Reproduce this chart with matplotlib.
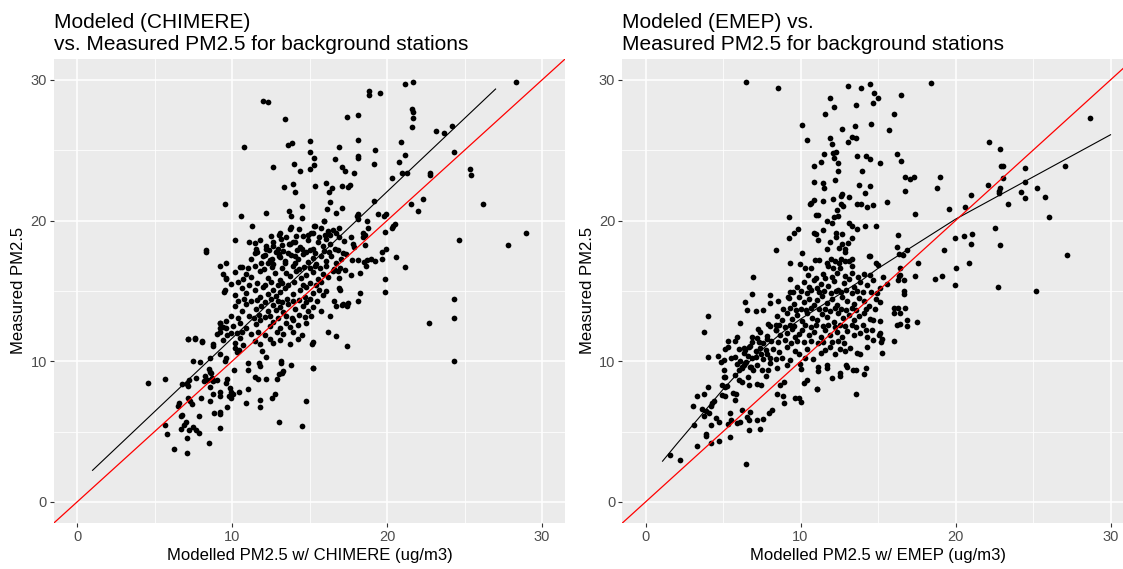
import numpy as np
import matplotlib
matplotlib.use('Agg')
import matplotlib.pyplot as plt
from matplotlib.ticker import FixedLocator

plt.rcParams['font.family'] = ['Liberation Sans', 'DejaVu Sans']

# --- CHIMERE panel: (modelled, measured) ---
chimere_sparse = [
    (12.0, 28.5), (12.3, 28.4), (13.4, 27.2), (17.4, 27.35), (10.8, 25.25), (13.6, 25.4), (13.85, 25.5),
    (15.0, 25.65), (16.9, 25.2), (15.0, 24.85), (15.3, 24.45), (16.65, 24.4), (14.0, 24.05), (12.65, 23.8),
    (15.3, 23.95), (15.0, 23.65), (14.4, 23.55), (17.1, 23.8), (17.3, 23.55), (13.95, 22.6), (13.35, 22.4),
    (14.05, 22.0), (15.35, 22.45), (16.05, 22.65), (16.45, 22.3), (16.25, 22.05), (17.1, 22.45), (17.5, 22.4),
    (16.35, 21.3), (16.1, 20.8), (17.1, 20.9), (16.7, 20.55), (14.5, 21.05), (14.5, 20.15), (13.7, 20.65),
    (13.8, 20.3), (9.55, 21.2), (10.6, 20.35), (12.2, 20.55), (11.3, 19.6), (15.9, 19.95), (15.3, 19.65),
    (15.2, 19.15), (13.75, 19.4), (13.1, 19.15), (14.1, 18.9), (10.2, 18.6), (11.1, 18.45), (8.35, 17.9),
    (8.35, 17.8), (9.2, 16.75), (9.6, 16.95), (10.65, 16.7), (11.55, 17.95), (11.5, 17.7), (12.2, 17.95),
    (12.1, 17.55), (12.65, 18.2), (13.0, 17.65), (13.05, 17.5), (12.55, 17.25), (12.3, 17.0), (13.4, 17.0),
    (13.2, 18.25), (13.65, 18.3), (13.95, 18.45), (14.2, 17.9), (14.05, 17.45),
    (21.15, 29.7), (21.65, 29.85), (18.85, 29.2), (18.85, 28.95), (19.55, 29.05), (18.15, 27.5), (21.6, 27.9),
    (21.7, 27.75), (21.7, 27.3), (21.6, 26.65), (28.35, 29.85), (23.15, 26.35), (23.7, 26.2), (24.2, 26.75),
    (18.15, 25.75), (20.9, 25.6), (18.1, 24.45), (18.15, 24.6), (19.25, 25.05), (21.15, 24.65), (20.75, 24.15),
    (19.15, 24.05), (20.95, 23.4), (21.3, 23.4), (22.75, 23.35), (22.75, 23.25), (24.35, 24.85), (17.85, 23.4),
    (17.6, 22.5), (20.3, 23.0), (25.35, 23.7), (25.4, 23.25), (19.15, 21.4), (21.55, 21.15), (22.3, 21.5),
    (22.0, 20.65), (26.2, 21.15), (18.05, 20.3), (18.1, 20.1), (18.15, 20.45), (18.7, 19.95), (19.4, 20.45),
    (19.8, 20.3), (19.9, 20.45), (18.45, 19.15), (18.55, 18.95), (18.45, 18.85), (18.75, 19.45), (19.85, 19.2),
    (20.4, 19.65), (20.3, 19.45), (20.5, 19.75), (17.7, 18.8), (17.85, 18.15), (18.55, 18.25), (24.65, 18.65),
    (28.95, 19.15), (27.8, 18.25), (19.65, 17.8), (19.95, 17.95), (17.75, 17.2), (18.15, 17.2), (18.5, 17.05),
    (18.7, 17.2), (18.65, 16.75), (18.95, 17.25), (19.25, 17.1), (19.7, 17.3), (20.55, 17.4), (21.15, 16.7),
    (17.7, 16.15), (18.25, 16.3), (19.85, 15.85), (18.25, 14.85), (18.15, 14.25), (19.85, 14.95), (24.35, 14.45),
    (24.35, 13.1), (22.7, 12.7), (24.35, 10.0),
    (9.6, 15.85), (9.45, 14.95), (5.7, 8.75), (4.6, 8.45), (7.15, 11.55), (7.6, 11.6), (8.05, 11.4), (7.45, 10.0),
    (7.95, 9.95), (8.55, 10.2), (9.2, 12.75), (9.2, 12.35), (9.6, 12.35), (9.65, 11.85), (9.2, 12.1), (9.05, 11.95),
    (8.75, 11.1), (9.2, 10.5), (9.6, 10.2), (9.55, 10.0), (10.35, 12.0), (10.2, 10.95), (10.45, 10.8), (10.3, 10.65),
    (10.1, 9.35), (11.0, 9.85), (11.05, 9.35), (11.75, 9.9), (11.8, 9.65), (11.45, 8.9), (11.65, 8.75), (12.2, 8.75),
    (12.2, 10.3), (11.95, 10.75), (13.15, 10.05), (13.15, 9.85), (13.8, 9.75), (15.2, 9.5), (13.3, 9.3), (13.0, 9.1),
    (13.25, 9.15), (12.9, 8.75), (12.75, 7.65), (12.6, 7.4), (11.8, 7.25), (11.8, 6.75), (10.9, 7.0), (10.45, 7.85),
    (11.05, 8.05), (9.7, 8.75), (9.6, 8.45), (9.85, 8.1), (9.9, 7.85), (9.8, 7.5), (9.7, 6.75), (9.2, 7.8), (9.2, 7.5),
    (9.95, 7.4), (10.05, 7.65), (8.7, 8.8), (8.75, 8.6), (9.0, 8.7), (8.55, 8.2), (8.75, 7.7), (8.5, 9.45), (8.6, 9.25),
    (8.65, 9.15), (8.25, 8.95), (8.45, 8.65), (8.2, 8.6), (7.7, 8.8), (7.25, 8.7), (7.15, 8.25), (7.1, 8.35),
    (6.75, 8.4), (8.0, 7.4), (8.6, 7.15), (7.4, 6.95), (7.3, 7.2), (7.15, 7.4), (6.55, 7.0), (6.5, 6.85), (6.75, 6.2),
    (6.7, 6.1), (7.85, 6.1), (8.85, 6.3), (9.2, 6.4), (9.25, 6.25), (9.25, 5.25), (5.65, 5.5), (7.0, 5.65),
    (6.9, 5.45), (5.8, 4.8), (6.7, 5.2), (7.25, 5.1), (7.45, 5.35), (7.65, 5.1), (7.85, 4.9), (7.1, 4.55), (8.5, 4.2),
    (6.25, 3.8), (7.1, 3.45), (13.0, 5.7), (14.5, 5.4), (14.75, 7.15), (15.15, 11.2), (16.2, 12.1), (17.4, 11.1),
    (16.3, 13.2), (16.6, 14.3), (17.1, 14.0), (17.45, 14.15), (16.95, 15.1), (16.85, 16.4), (15.2, 9.55),
    (16.7, 11.8), (17.4, 13.9), (16.7, 13.9), (17.15, 14.05), (16.9, 15.2), (17.3, 16.5), (16.95, 16.6),
]

chimere_dense = [
    (13.78, 19.51), (14.31, 19.39), (14.89, 18.99), (15.34, 19.63), (15.77, 19.47), (15.96, 19.94), (16.2, 19.23),
    (16.33, 18.99), (16.5, 19.35), (16.71, 19.11), (16.93, 19.47),
    (12.5, 18.9), (13.0, 19.0), (13.5, 18.85), (14.6, 18.9), (15.1, 19.1), (15.6, 18.8), (16.0, 19.0), (16.9, 18.8),
    (11.46, 18.4), (11.78, 18.6), (12.21, 18.2), (12.64, 18.5), (12.96, 18.0), (13.18, 18.7), (13.71, 18.3),
    (14.04, 18.5), (14.36, 18.1), (14.89, 18.6), (15.21, 18.0), (15.53, 18.45), (15.86, 18.2), (16.07, 18.7),
    (16.33, 18.35), (16.61, 18.0), (17.25, 18.55), (17.78, 18.3),
    (11.6, 17.8), (12.4, 17.9), (12.85, 17.75), (13.3, 17.85), (13.6, 17.7), (14.5, 17.95), (14.75, 17.8),
    (15.05, 17.9), (15.35, 17.7), (15.95, 17.85), (16.25, 17.75), (16.85, 17.9), (17.15, 17.7),
    (11.25, 17.3), (11.89, 17.0), (12.0, 17.5), (12.43, 17.2), (12.64, 16.9), (13.07, 17.4), (13.39, 17.1),
    (13.82, 17.55), (14.04, 16.95), (14.25, 17.3), (14.57, 17.6), (14.89, 17.05), (15.21, 17.35), (15.43, 16.9),
    (15.75, 17.5), (16.07, 17.15), (16.39, 17.45), (16.71, 16.95), (17.04, 17.3), (17.36, 17.6),
    (10.5, 16.7), (11.0, 16.6), (11.5, 16.8), (12.05, 16.55), (12.55, 16.7), (13.25, 16.6), (13.95, 16.75),
    (14.3, 16.55), (14.65, 16.7), (15.0, 16.6), (15.35, 16.75), (15.7, 16.6), (16.05, 16.8), (16.6, 16.55),
    (9.43, 16.2), (9.64, 15.9), (10.18, 16.35), (10.71, 15.85), (10.93, 16.2), (11.25, 16.0), (11.78, 16.4),
    (12.32, 15.95), (12.75, 16.25), (13.07, 15.8), (13.5, 16.3), (13.71, 16.05), (14.14, 16.4), (14.46, 15.9),
    (14.78, 16.15), (15.21, 16.35), (15.53, 15.85), (15.86, 16.2), (16.18, 16.0), (16.5, 16.4), (16.93, 15.95),
    (9.9, 15.5), (10.4, 15.6), (11.1, 15.45), (11.6, 15.55), (12.15, 15.4), (12.5, 15.6), (12.95, 15.45),
    (13.25, 15.55), (13.6, 15.4), (14.0, 15.6), (14.55, 15.45), (15.0, 15.55), (15.4, 15.4), (15.75, 15.6),
    (9.54, 15.1), (10.18, 14.7), (10.61, 15.2), (10.93, 14.85), (11.46, 15.05), (11.78, 14.6), (12.0, 15.25),
    (12.32, 14.8), (12.64, 15.1), (12.86, 14.65), (13.07, 14.95), (13.39, 15.2), (13.93, 14.75), (14.36, 15.05),
    (14.68, 14.6), (14.78, 15.25), (15.21, 14.85), (15.64, 15.1), (15.86, 14.7), (16.07, 15.0),
    (10.4, 14.3), (10.75, 14.4), (11.2, 14.25), (11.6, 14.35), (12.1, 14.2), (12.5, 14.4), (12.95, 14.3),
    (13.2, 14.2), (13.55, 14.4), (13.95, 14.25), (14.3, 14.35), (14.75, 14.2), (15.05, 14.4), (15.45, 14.3),
    (10.18, 13.9), (10.61, 13.6), (10.93, 14.05), (11.57, 13.7), (11.89, 13.95), (12.32, 13.55), (12.64, 14.0),
    (12.86, 13.65), (13.07, 13.85), (13.29, 13.5), (13.61, 14.1), (14.04, 13.7), (14.57, 13.95), (14.89, 13.6),
    (15.21, 13.85), (15.75, 13.55),
    (9.9, 13.2), (10.4, 13.1), (11.1, 13.25), (11.4, 13.1), (11.75, 13.3), (12.1, 13.15), (12.45, 13.2),
    (12.95, 13.1), (13.45, 13.25), (13.85, 13.1), (14.3, 13.3), (14.7, 13.15), (15.1, 13.2),
    (9.21, 12.7), (9.43, 12.45), (9.64, 12.85), (10.07, 12.5), (10.5, 12.75), (10.93, 12.4), (11.57, 12.65),
    (11.78, 12.9), (12.43, 12.5), (12.64, 12.8), (13.07, 12.35), (13.5, 12.7), (13.71, 12.45), (13.93, 12.9),
    (14.25, 12.55), (14.79, 12.75),
    (9.9, 12.0), (10.65, 12.1), (11.2, 11.95), (11.65, 12.05), (12.1, 11.9), (12.9, 12.1), (13.3, 11.95),
    (13.95, 12.05), (14.5, 11.9),
    (7.18, 11.56), (7.61, 11.63), (8.04, 11.46), (8.79, 11.2), (9.43, 11.5), (10.18, 11.3), (10.5, 11.65),
    (10.71, 11.15), (11.46, 11.45), (11.78, 11.2), (12.43, 11.6), (12.64, 11.3), (13.07, 11.5), (13.71, 11.25),
    (14.25, 11.55), (15.21, 11.35),
]

# linear fit (black) read at its two ends
chimere_fit_x = [1.0, 27.0]
chimere_fit_y = [2.25, 29.35]

# --- EMEP panel ---
emep_sparse = [
    (6.5, 29.85), (8.55, 29.45), (10.1, 26.8), (10.4, 25.7), (11.6, 27.6), (11.9, 28.7), (12.15, 28.05),
    (13.05, 29.55), (13.9, 29.45), (14.5, 29.7), (14.75, 29.05), (15.0, 28.7), (14.65, 28.35), (13.6, 28.2),
    (14.55, 26.85), (15.7, 26.45), (12.7, 26.5), (13.5, 26.7), (13.35, 25.95), (13.55, 25.85), (11.9, 25.85),
    (12.0, 25.45), (13.05, 25.55), (11.5, 24.75), (12.1, 24.8), (12.3, 24.9), (12.15, 24.45), (11.3, 24.15),
    (10.85, 23.9), (12.45, 24.1), (12.45, 23.5), (13.65, 24.6), (14.2, 24.6), (14.5, 24.35), (15.1, 24.1),
    (13.95, 23.55), (12.2, 22.9), (10.85, 22.75), (11.45, 22.65), (11.5, 22.35), (13.8, 22.5), (14.5, 22.45),
    (14.15, 21.95), (12.1, 21.5), (11.45, 21.4), (10.9, 21.45), (10.7, 21.25), (10.6, 21.15), (12.7, 21.9),
    (12.6, 21.75), (13.15, 21.65), (13.65, 21.2), (13.9, 21.2), (14.3, 21.0), (14.7, 21.1), (12.6, 21.15),
    (12.75, 21.05), (12.35, 20.75), (15.6, 21.35), (11.0, 20.4), (11.1, 20.4), (12.15, 20.25), (12.45, 20.35),
    (9.25, 20.25), (11.7, 20.0), (12.05, 19.8), (13.15, 19.85), (13.35, 19.6), (13.65, 19.4), (14.15, 19.65),
    (14.9, 19.6), (9.85, 19.4), (9.6, 19.15), (9.25, 18.75), (10.9, 19.1), (11.0, 19.05), (11.45, 19.3),
    (12.3, 19.15), (12.3, 18.85), (12.7, 19.05), (11.15, 18.6), (11.9, 18.5), (13.3, 18.75), (13.05, 18.4),
    (12.7, 18.3), (12.5, 18.05), (12.85, 17.95), (12.9, 17.8), (11.7, 17.95), (8.4, 17.9), (10.1, 17.7),
    (14.4, 17.5), (14.5, 17.45), (14.85, 17.0), (15.0, 16.85), (9.3, 17.0), (9.95, 16.9), (10.3, 16.65),
    (10.7, 16.6), (10.95, 17.2), (11.2, 17.2), (11.7, 17.0), (11.95, 17.25), (12.25, 17.1), (12.5, 16.95),
    (12.6, 17.25), (12.9, 17.15), (13.1, 17.15), (13.35, 17.25), (13.35, 16.8), (11.8, 16.8), (12.1, 16.65),
    (12.55, 16.65),
    (18.45, 29.8), (16.5, 28.95), (16.0, 27.6), (16.2, 24.75), (16.5, 24.25), (16.75, 23.1), (17.05, 22.95),
    (17.35, 23.1), (19.0, 23.1), (18.8, 22.35), (16.75, 22.1), (17.4, 20.5), (19.55, 20.85), (20.6, 21.0),
    (21.0, 21.85), (22.15, 25.55), (22.9, 25.1), (22.95, 23.85), (23.05, 23.85), (23.05, 23.05), (22.1, 22.5),
    (22.85, 22.3), (22.8, 22.1), (22.8, 21.95), (23.4, 21.2), (24.25, 22.0), (24.5, 23.75), (24.5, 22.75),
    (24.5, 21.6), (25.25, 22.35), (25.8, 21.65), (26.0, 20.25), (27.05, 23.85), (28.65, 27.3), (27.2, 17.55),
    (22.55, 19.5), (22.85, 18.25), (16.3, 19.0), (16.2, 18.1), (16.35, 17.65), (16.6, 17.55), (16.9, 17.9),
    (17.55, 17.0), (19.25, 17.9), (19.95, 18.75), (20.55, 18.9), (21.05, 19.05), (21.0, 18.3), (20.0, 16.65),
    (20.85, 17.0), (16.45, 16.65),
    (17.4, 16.05), (18.7, 15.85), (19.1, 16.05), (19.95, 15.45), (22.75, 15.3), (25.2, 15.0), (16.35, 16.05),
    (16.45, 16.1), (16.3, 15.75), (16.65, 15.75), (16.7, 15.0), (16.65, 14.8), (16.0, 13.8), (16.3, 13.8),
    (16.75, 13.8), (16.05, 13.4), (16.45, 13.4), (16.2, 12.55), (16.4, 12.65), (16.9, 12.9), (16.85, 12.5),
    (17.5, 12.8), (16.05, 11.45),
    (6.95, 16.0), (6.85, 14.8), (8.05, 14.7), (8.05, 14.15), (8.55, 14.3), (9.2, 14.6), (9.75, 15.3), (9.35, 14.95),
    (9.3, 15.85), (6.4, 14.2), (6.55, 13.65), (7.15, 13.6), (7.6, 13.65), (4.05, 13.25), (3.75, 12.05), (6.1, 12.75),
    (7.9, 12.65), (8.4, 12.55), (8.4, 12.2), (7.25, 12.3), (6.85, 11.7), (7.2, 11.65), (7.3, 11.35), (5.9, 11.7),
    (5.75, 11.45), (5.35, 11.45), (5.3, 11.05), (5.15, 10.9), (4.05, 10.3), (4.7, 10.4), (5.05, 10.1), (5.75, 10.3),
    (6.1, 10.05), (6.35, 10.95), (6.4, 10.8), (6.75, 11.1), (6.6, 10.35), (7.85, 11.55), (7.8, 10.8), (7.45, 10.55),
    (7.15, 10.3), (6.8, 9.6), (6.95, 9.4), (5.05, 8.9), (4.95, 8.3), (5.25, 8.25), (5.1, 8.15), (4.05, 8.2),
    (3.75, 7.7), (3.3, 7.55), (3.05, 6.85), (1.6, 3.35), (2.2, 3.0), (6.5, 2.7), (9.9, 7.4), (10.0, 7.1), (9.65, 7.4),
    (10.45, 8.65), (10.2, 8.45), (11.05, 8.0), (9.95, 9.8),
    (6.5, 9.95), (6.35, 9.7), (6.25, 9.6), (6.05, 9.35), (5.8, 9.0), (6.0, 8.65), (6.25, 8.55), (6.6, 8.9), (6.7, 8.3),
    (7.2, 8.4), (7.45, 8.3), (7.8, 8.95), (7.9, 9.35), (4.4, 7.15), (4.3, 7.0), (4.2, 6.8), (4.95, 7.6), (5.1, 7.5),
    (5.65, 7.75), (5.85, 7.7), (5.75, 7.25), (3.65, 6.6), (3.8, 6.1), (3.9, 6.5), (4.1, 6.35), (5.45, 6.3), (5.5, 5.8),
    (5.3, 5.55), (5.9, 5.6), (6.1, 5.7), (6.25, 6.55), (6.55, 6.05), (6.65, 5.8), (6.75, 6.4), (7.2, 5.8), (7.55, 5.9),
    (7.4, 5.2), (6.65, 5.1), (3.15, 5.45), (4.2, 5.45), (4.55, 5.95), (4.75, 5.65), (3.9, 4.85), (3.9, 4.7), (3.3, 4.0),
    (4.25, 4.2), (4.75, 4.35), (5.45, 4.65), (7.95, 6.3), (8.15, 6.55), (8.5, 7.7), (8.7, 8.3), (8.95, 8.5),
    (8.95, 7.05), (8.85, 7.5), (4.9, 9.95), (5.05, 9.35), (5.15, 8.9),
    (14.2, 12.2), (14.7, 12.9), (15.15, 12.0), (15.2, 11.4), (15.25, 10.6), (14.7, 11.5), (14.3, 11.0),
    (13.85, 10.55), (13.55, 7.7), (13.4, 9.4), (14.2, 9.5), (12.55, 8.95), (12.05, 8.8), (12.95, 9.7),
    (11.15, 9.6), (11.7, 9.7), (11.05, 8.0),
]

emep_dense = [
    (10.5, 16.1), (11.0, 15.95), (11.45, 16.2), (12.0, 16.0), (12.35, 16.25), (12.9, 16.05), (13.3, 16.3),
    (13.7, 16.0), (14.1, 16.2), (14.5, 16.1), (15.3, 16.0),
    (10.2, 15.6), (10.55, 15.3), (10.85, 15.8), (11.05, 15.2), (11.3, 15.5), (11.6, 15.9), (11.8, 15.35),
    (12.15, 15.7), (12.45, 15.1), (12.8, 15.55), (13.1, 15.85), (13.45, 15.25), (13.85, 15.6), (14.3, 15.4),
    (14.7, 15.75), (15.15, 15.2), (15.6, 15.5),
    (9.5, 14.9), (10.0, 15.0), (10.4, 14.85), (10.7, 15.05), (11.2, 14.9), (11.5, 15.0), (11.95, 14.85),
    (12.3, 15.0), (12.6, 14.9), (12.95, 15.05), (13.3, 14.85), (13.65, 15.0), (14.0, 14.9), (14.55, 14.95),
    (14.95, 14.85),
    (9.25, 14.5), (9.55, 14.1), (9.9, 14.6), (10.2, 14.2), (10.55, 14.45), (10.85, 14.0), (11.05, 14.35),
    (11.4, 14.65), (11.7, 14.15), (12.05, 14.4), (12.35, 14.0), (12.7, 14.55), (13.0, 14.25), (13.45, 14.1),
    (13.75, 14.5), (14.1, 14.3), (14.4, 13.95), (14.85, 14.4), (15.15, 14.2),
    (8.9, 13.7), (9.35, 13.8), (9.7, 13.65), (10.05, 13.75), (10.35, 13.65), (10.7, 13.8), (11.2, 13.7),
    (11.55, 13.75), (11.9, 13.6), (12.25, 13.8), (12.6, 13.7), (12.95, 13.65), (13.3, 13.8), (13.6, 13.65),
    (14.25, 13.75), (14.8, 13.7),
    (8.5, 13.2), (8.8, 12.9), (9.15, 13.4), (9.45, 13.0), (9.75, 13.3), (10.1, 12.85), (10.4, 13.45),
    (10.75, 13.1), (11.05, 12.95), (11.4, 13.35), (11.7, 13.15), (12.15, 12.8), (12.45, 13.4), (12.75, 13.05),
    (13.1, 13.3), (13.45, 12.9), (13.75, 13.2), (14.1, 13.45), (14.5, 13.0), (15.15, 12.85),
    (8.0, 12.5), (8.6, 12.6), (9.0, 12.45), (9.3, 12.6), (9.6, 12.5), (10.3, 12.55), (10.65, 12.45), (11.0, 12.6),
    (11.45, 12.5), (11.8, 12.55), (12.2, 12.45), (12.55, 12.6), (12.9, 12.5), (13.3, 12.6), (13.6, 12.45),
    (14.0, 12.55),
    (7.4, 12.1), (7.85, 11.8), (8.4, 12.2), (8.7, 11.9), (9.15, 12.0), (9.45, 12.3), (9.65, 11.7), (9.9, 11.95),
    (10.1, 12.25), (10.55, 11.85), (10.85, 12.1), (11.3, 11.75), (11.6, 12.2), (11.9, 11.9), (12.35, 12.05),
    (12.7, 11.7), (13.0, 12.15), (13.45, 11.85), (13.85, 12.0), (14.3, 11.75), (14.6, 12.2), (15.05, 11.9),
    (15.25, 11.6),
    (6.9, 11.4), (7.6, 11.3), (8.1, 11.45), (8.55, 11.35), (9.0, 11.5), (9.4, 11.3), (9.8, 11.45), (10.25, 11.35),
    (10.7, 11.45), (11.1, 11.3), (11.45, 11.4), (12.05, 11.35), (12.45, 11.45), (12.8, 11.3),
    (6.0, 10.9), (6.35, 10.6), (6.65, 11.0), (7.1, 10.7), (7.4, 10.95), (7.85, 10.5), (8.25, 10.85), (8.6, 10.65),
    (9.15, 11.05), (9.65, 10.75), (9.9, 10.55), (10.4, 10.9), (11.3, 10.6), (11.6, 10.8), (11.9, 11.0),
    (12.25, 10.55), (12.55, 10.85), (12.9, 10.7), (13.2, 10.95), (13.65, 10.6),
    (5.5, 10.2), (6.9, 10.25), (7.6, 10.15), (8.0, 10.25), (8.4, 10.15), (8.8, 10.25), (9.3, 10.1), (10.3, 10.2),
    (10.8, 10.15),
    (5.9, 9.8), (6.2, 9.5), (6.45, 9.9), (6.75, 9.6), (7.2, 9.75), (7.5, 9.4), (8.05, 9.85), (8.5, 9.55),
    (9.15, 9.7), (10.0, 9.45), (11.15, 9.3), (11.7, 9.55), (12.55, 9.2), (13.0, 9.6), (13.55, 9.35), (14.1, 9.1),
]

# loess curve (black) read along its length
emep_fit_x = [1.1, 2, 3, 4, 5, 6, 7, 8, 9, 10, 11, 12, 13, 14, 15, 16, 17, 18, 19, 20, 22, 24, 26, 28, 30]
emep_fit_y = [2.9, 4.1, 5.4, 6.7, 8.0, 9.2, 10.3, 11.3, 12.2, 13.0, 13.7, 14.4, 15.1, 15.8, 16.6, 17.3,
              18.0, 18.7, 19.4, 20.1, 21.3, 22.5, 23.7, 24.9, 26.1]

titles = ['Modeled (CHIMERE)\nvs. Measured PM2.5 for background stations',
          'Modeled (EMEP) vs.\nMeasured PM2.5 for background stations']
xlabels = ['Modelled PM2.5 w/ CHIMERE (ug/m3)', 'Modelled PM2.5 w/ EMEP (ug/m3)']
ylabel = 'Measured PM2.5'
ticks = [0, 10, 20, 30]
minor_ticks = [5, 15, 25]

fig = plt.figure(figsize=(11.23, 5.69), dpi=100)
ax_l = fig.add_axes([0.0479, 0.0807, 0.4555, 0.8160])
ax_r = fig.add_axes([0.5541, 0.0807, 0.4555, 0.8160])

panels = [
    (ax_l, chimere_sparse + chimere_dense, chimere_fit_x, chimere_fit_y),
    (ax_r, emep_sparse + emep_dense, emep_fit_x, emep_fit_y),
]

for i, (ax, pts, fx, fy) in enumerate(panels):
    pts = np.array(pts)
    ax.set_facecolor('#EBEBEB')
    ax.set_xlim(-1.5, 31.5)
    ax.set_ylim(-1.5, 31.5)
    ax.set_xticks(ticks)
    ax.set_yticks(ticks)
    ax.xaxis.set_minor_locator(FixedLocator(minor_ticks))
    ax.yaxis.set_minor_locator(FixedLocator(minor_ticks))
    ax.grid(which='major', color='white', linewidth=1.1)
    ax.grid(which='minor', color='white', linewidth=0.55)
    ax.set_axisbelow(True)
    for s in ax.spines.values():
        s.set_visible(False)
    ax.tick_params(which='major', length=3, width=0.8, color='#333333',
                   labelcolor='#4D4D4D', labelsize=10.5, pad=2)
    ax.tick_params(which='minor', length=0)

    ax.scatter(pts[:, 0], pts[:, 1], s=17, color='black', linewidths=0, zorder=3)
    ax.plot(fx, fy, color='black', linewidth=0.8, zorder=4)
    ax.axline((0, 0), slope=1, color='red', linewidth=0.9, zorder=4)

    ax.set_title(titles[i], loc='left', fontsize=15, color='black', pad=6, linespacing=1.25)
    ax.set_xlabel(xlabels[i], fontsize=12, color='black', labelpad=3)
    ax.set_ylabel(ylabel, fontsize=12, color='black', labelpad=3)

fig.savefig('out.png', dpi=100)
